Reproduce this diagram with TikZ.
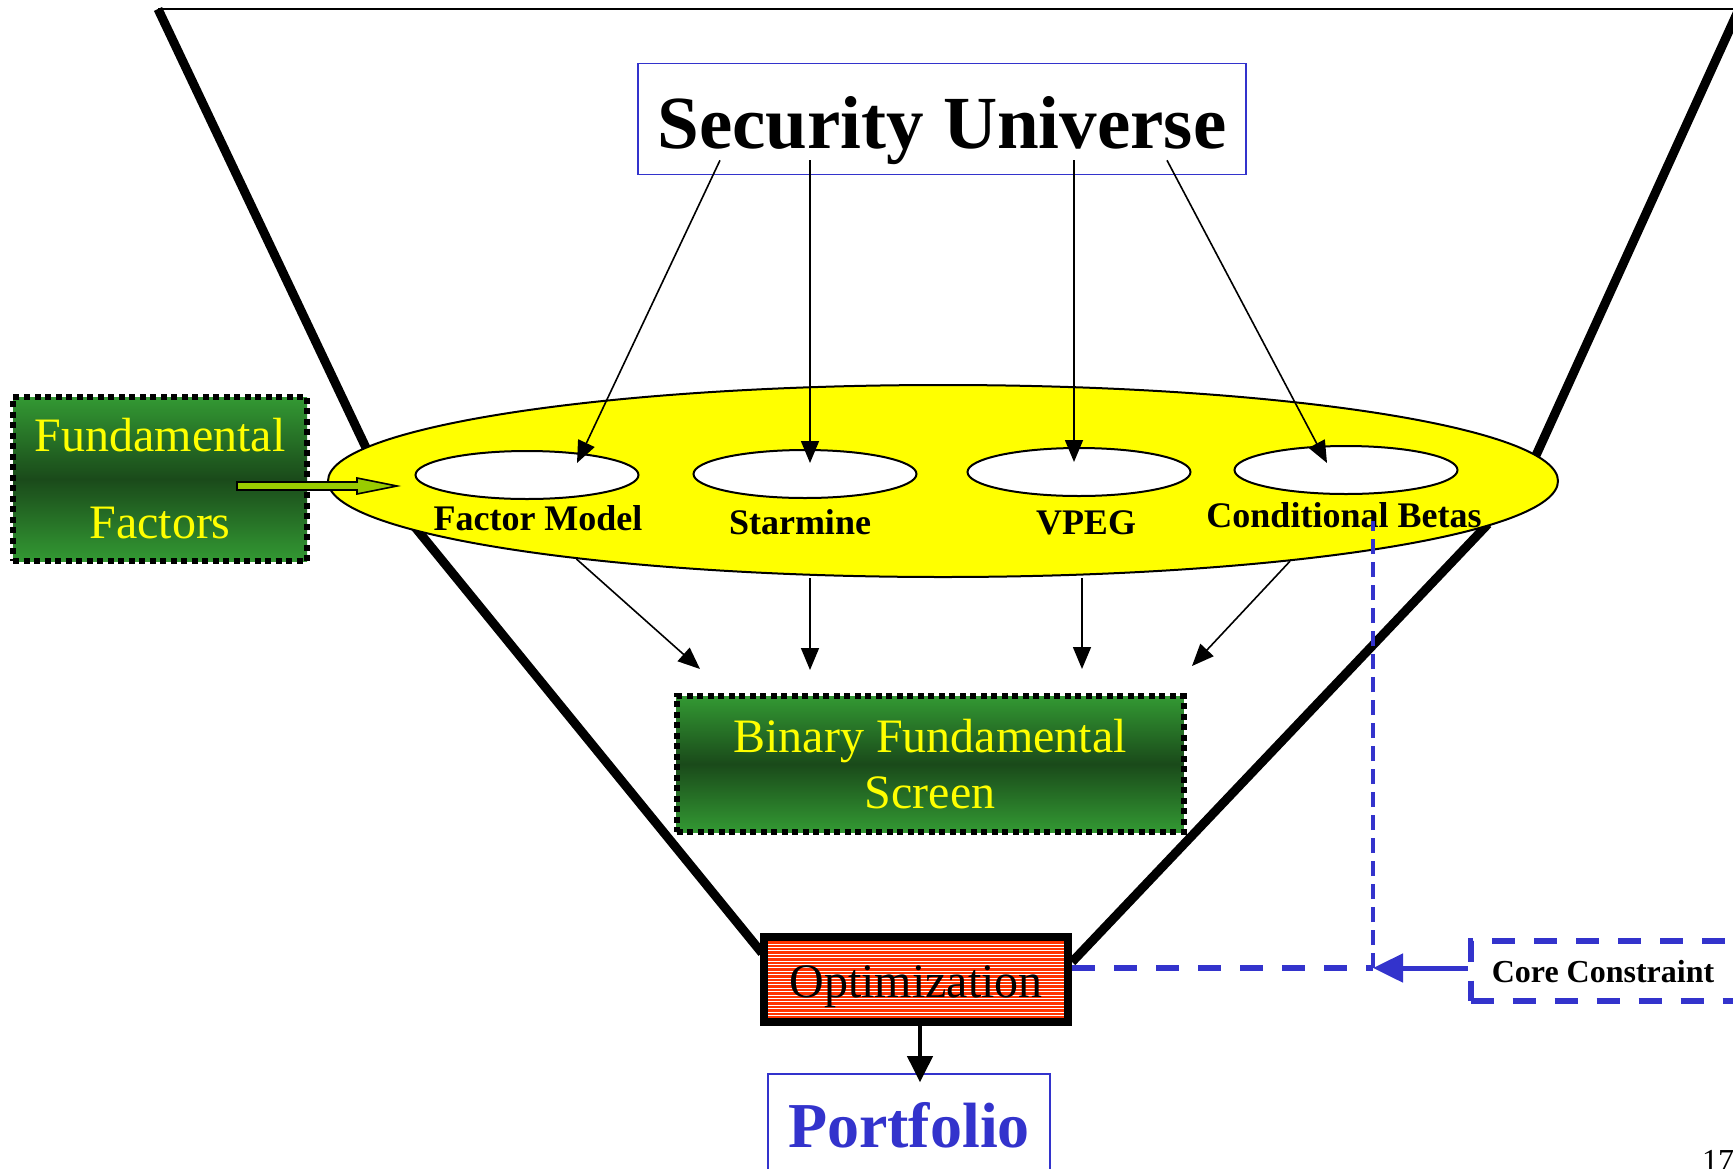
\documentclass[tikz,border=0pt]{standalone}
\usepackage{fontspec}
\setmainfont{Liberation Serif}
\usetikzlibrary{shapes.geometric,arrows.meta}
\definecolor{univblue}{HTML}{3333CC}
\definecolor{boxgreen}{HTML}{339933}
\definecolor{darkgreen}{HTML}{1A4A1A}
\definecolor{optred}{HTML}{FF3300}
\definecolor{arrowlime}{HTML}{99CC00}
\definecolor{plainyellow}{RGB}{255,255,0}
\begin{document}
\begin{tikzpicture}[x=1pt,y=-1pt,
    funnel/.style={line width=9pt},
    greenbox/.style={draw=black,line width=6pt,dash pattern=on 6pt off 4.5pt,
      top color=boxgreen,bottom color=boxgreen,middle color=darkgreen,
      text=plainyellow,align=center,inner sep=0pt},
    hole/.style={ellipse,draw,line width=2pt,fill=white,
      minimum width=223pt,minimum height=48pt,inner sep=0pt},
    lbl/.style={anchor=base,inner sep=0pt,font=\bfseries\fontsize{36}{40}\selectfont},
    feed/.style={line width=1.6pt,-{Triangle[length=22pt,width=18pt]}},
    bluedash/.style={draw=univblue,line width=6pt,dash pattern=on 23pt off 19pt}]
  \useasboundingbox (0,0) rectangle (1733,1168);
  \draw[line width=2.2pt] (158,9) -- (1745,9);
  \draw[funnel] (158,9) -- (368,452);
  \draw[funnel] (1739,9) -- (1533,462);
  \draw[funnel] (410,521) -- (762,953);
  \draw[funnel] (1488,524) -- (1072,962);
  \node[ellipse,draw,line width=2pt,fill=plainyellow,minimum width=1230pt,
    minimum height=192pt,inner sep=0pt] (uni) at (943,481) {};
  \node[hole] (fm) at (527,475) {};
  \node[hole] (sm) at (805,474) {};
  \node[hole] (vp) at (1079,472) {};
  \node[hole] (cb) at (1346,470) {};
  \node[lbl] (fml) at (538,530) {Factor Model};
  \node[lbl] (sml) at (800,534) {Starmine};
  \node[lbl] (vpl) at (1086,534) {VPEG};
  \node[lbl] (cbl) at (1344,527) {Conditional Betas};
  \node[draw=univblue,line width=1.6pt,anchor=base,inner sep=0pt,
    text height=58pt,text depth=0pt,minimum width=608pt,minimum height=111pt,
    font=\bfseries\fontsize{75}{80}\selectfont] (su) at (942,148) {Security Universe};
  \node[greenbox,font=\fontsize{48}{87}\selectfont,minimum width=294pt,
    minimum height=164pt] (ff) at (160,479) {Fundamental\\Factors};
  \draw[line width=1.6pt,fill=arrowlime] (237,482) -- (357,482) -- (357,478)
    -- (397,486) -- (357,494) -- (357,490) -- (237,490) -- cycle;
  \node[greenbox,font=\fontsize{48}{56}\selectfont,minimum width=507pt,
    minimum height=136pt] (bfs) at (930,764) {Binary Fundamental\\Screen};
  \node[draw,line width=8pt,fill=optred,anchor=base,inner sep=0pt,
    text height=35pt,text depth=0pt,minimum width=304pt,minimum height=85pt,
    font=\fontsize{48}{52}\selectfont,
    path picture={\foreach \k in {1,...,30}{\draw[white,line width=0.45pt]
      ([yshift=-\k*3.4pt]path picture bounding box.north west) --
      ([yshift=-\k*3.4pt]path picture bounding box.north east);}}]
    (opt) at (916,997) {Optimization};
  \node[draw=univblue,line width=1.6pt,anchor=base,inner sep=0pt,text=univblue,
    text height=26pt,text depth=0pt,minimum width=282pt,minimum height=120pt,
    font=\bfseries\fontsize{64}{70}\selectfont] (pf) at (909,1147) {Portfolio};
  \node[bluedash,anchor=base,inner sep=0pt,text height=23pt,text depth=0pt,
    minimum width=265pt,minimum height=60pt,
    font=\bfseries\fontsize{32}{36}\selectfont] (cc) at (1603,982) {Core Constraint};
  \coordinate (j) at (1373,968);
  \coordinate (jt) at (1373,521);
  \coordinate (t1) at ([xshift=-230pt,yshift=24pt]bfs.north);
  \coordinate (t2) at ([xshift=-120pt,yshift=23pt]bfs.north);
  \coordinate (t3) at ([xshift=152pt,yshift=24pt]bfs.north);
  \coordinate (t4) at ([xshift=262pt,yshift=27pt]bfs.north);
  \node[anchor=base west,inner sep=0pt,font=\fontsize{32}{36}\selectfont]
    (pg) at (1702,1171) {17};
  \begin{scope}[feed]
    \draw ([xshift=-222pt,yshift=15pt]su.south) -- ([xshift=50pt,yshift=12pt]fm.center);
    \draw ([xshift=-132pt,yshift=15pt]su.south) -- ([xshift=5pt,yshift=11pt]sm.center);
    \draw ([xshift=132pt,yshift=15pt]su.south) -- ([xshift=-5pt,yshift=10pt]vp.center);
    \draw ([xshift=225pt,yshift=15pt]su.south) -- ([xshift=-19pt,yshift=7pt]cb.center);
    \draw (uni.192.3) -- (t1);
    \draw (t2 |- uni.south) -- (t2);
    \draw (t3 |- uni.south) -- (t3);
    \draw (uni.347.7) -- (t4);
  \end{scope}
  \draw[line width=4pt,-{Triangle[length=26pt,width=25pt]}]
    ([xshift=4pt]opt.south) -- ([xshift=4pt,yshift=-9pt]opt.south |- pf.north);
  \draw[bluedash] (j -| opt.east) -- (j);
  \draw[univblue,line width=3.5pt,dash pattern=on 15pt off 8pt] (j) -- (jt);
  \draw[univblue,line width=5pt,-{Triangle[length=30pt,width=28pt]}] (j -| cc.west) -- (j);
\end{tikzpicture}
\end{document}
